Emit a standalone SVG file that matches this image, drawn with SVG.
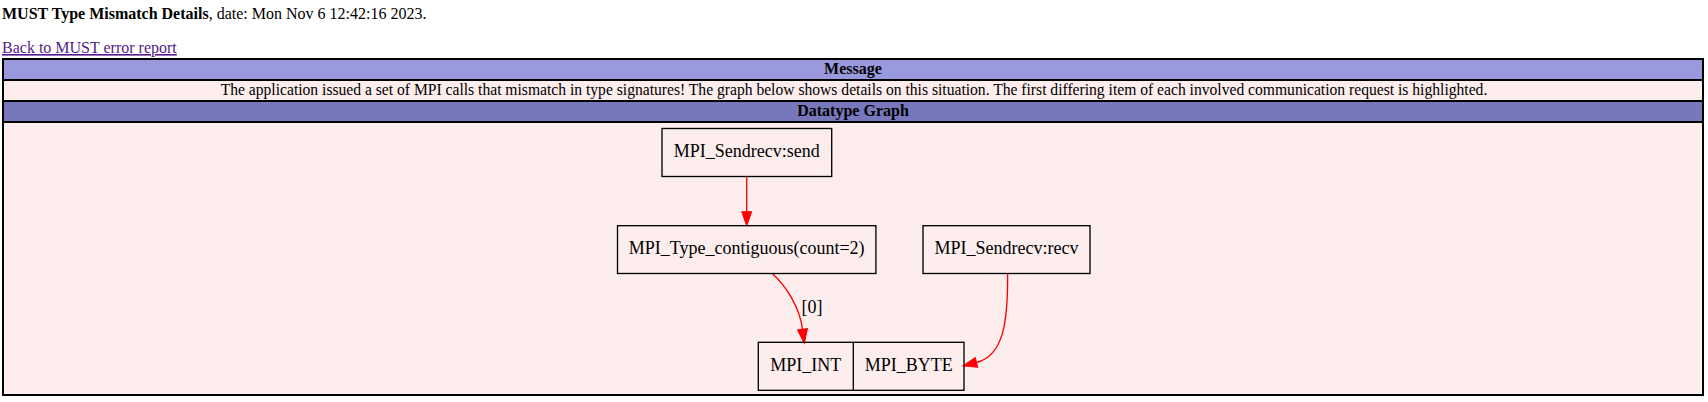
<svg xmlns="http://www.w3.org/2000/svg" width="1708" height="402" viewBox="0 0 1708 402">
<style>
text{font-family:"Liberation Serif","Times New Roman",serif;fill:#000}
.t16{font-size:16px}
.b{font-weight:bold}
.c{text-anchor:middle}
.sep{stroke:#000;stroke-width:2}
.node rect,.node line{fill:none;stroke:#000;stroke-width:1.33}
.node text,.lbl{font-size:18px;text-anchor:middle}
.edge{fill:none;stroke:#ff0000;stroke-width:1.33}
</style>
<defs>
<marker id="ah" markerUnits="userSpaceOnUse" markerWidth="16" markerHeight="12" refX="0" refY="5" orient="auto" overflow="visible">
<path d="M0,0 L14,5 L0,10 Z" fill="#ff0000" stroke="#ff0000" stroke-width="1"/>
</marker>
</defs>
<rect width="1708" height="402" fill="#ffffff"/>
<text class="t16" x="2" y="19"><tspan class="b">MUST Type Mismatch Details</tspan>, date: Mon Nov 6 12:42:16 2023.</text>
<text class="t16" x="2" y="53" style="fill:#551a8b;text-decoration:underline">Back to MUST error report</text>
<g id="table">
<rect x="3" y="60" width="1700" height="20" fill="#9999dd"/>
<rect x="3" y="80" width="1700" height="21" fill="#fdeded"/>
<rect x="3" y="101" width="1700" height="21" fill="#7777bb"/>
<rect x="3" y="122" width="1700" height="273" fill="#fdeded"/>
<line class="sep" x1="3" y1="80" x2="1703" y2="80"/>
<line class="sep" x1="3" y1="101" x2="1703" y2="101"/>
<line class="sep" x1="3" y1="122" x2="1703" y2="122"/>
<rect x="3" y="59" width="1700" height="336" fill="none" stroke="#000" stroke-width="2"/>
<text class="t16 b c" x="853" y="74">Message</text>
<text class="t16" x="220.7" y="95" textLength="1266.6" lengthAdjust="spacingAndGlyphs">The application issued a set of MPI calls that mismatch in type signatures! The graph below shows details on this situation. The first differing item of each involved communication request is highlighted.</text>
<text class="t16 b c" x="853" y="116">Datatype Graph</text>
</g>
<g id="connectors">
<path class="edge" d="M746.7,176.5 L746.7,211.7" marker-end="url(#ah)"/>
<path class="edge" d="M772.3,273.5 C786,286 799.6,306.9 802.5,329.3" marker-end="url(#ah)"/>
<text class="lbl" x="812" y="313">[0]</text>
<path class="edge" d="M1007.6,273.6 C1008,320 1004.1,355.5 976.5,362.5" marker-end="url(#ah)"/>
</g>
<g id="node-send" class="node">
<rect x="662" y="128.5" width="169.7" height="48"/>
<text x="746.7" y="156.7">MPI_Sendrecv:send</text>
</g>
<g id="node-contiguous" class="node">
<rect x="617.5" y="225.7" width="258.4" height="47.8"/>
<text x="746.7" y="254.3">MPI_Type_contiguous(count=2)</text>
</g>
<g id="node-recv" class="node">
<rect x="923" y="225.7" width="167" height="47.8"/>
<text x="1006.5" y="254.3">MPI_Sendrecv:recv</text>
</g>
<g id="node-types" class="node">
<rect x="758.3" y="342.3" width="205.7" height="48"/>
<line x1="853.3" y1="342.3" x2="853.3" y2="390.3"/>
<text x="805.8" y="370.7">MPI_INT</text>
<text x="908.7" y="370.7">MPI_BYTE</text>
</g>
</svg>
